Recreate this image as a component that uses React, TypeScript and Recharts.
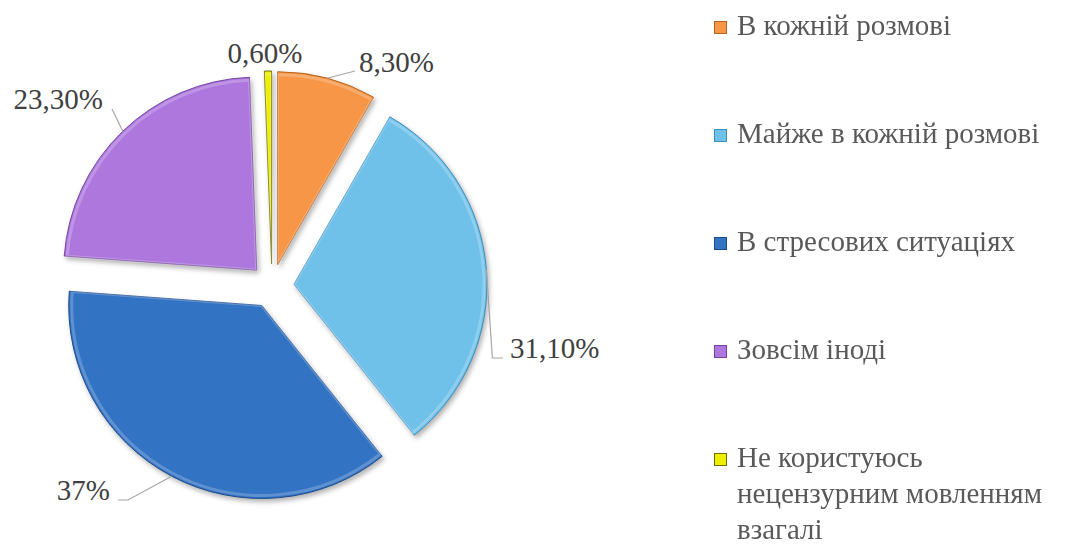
import React from 'react';
import { PieChart, Pie, Cell, Sector, Legend } from 'recharts';

const categories = [
  'В кожній розмові',
  'Майже в кожній розмові',
  'В стресових ситуаціях',
  'Зовсім іноді',
  'Не користуюсь нецензурним мовленням взагалі',
];
const values = [8.3, 31.1, 37, 23.3, 0.6];
const valueLabels = ['8,30%', '31,10%', '37%', '23,30%', '0,60%'];
const colors = ['#F79646', '#6FC1EA', '#3273C4', '#AD77DE', '#EEEE00'];
const edgeColors = ['#B5631F', '#3F8DBA', '#1C4B8C', '#74459F', '#6E6E00'];

const data = categories.map((name, i) => ({ name, value: values[i] }));

const W = 1080;
const H = 544;
const CX = 272;
const CY = 286;
const R = 193;
const EXPLODE = 22;
const RAD = Math.PI / 180;
const FONT = 'Tinos, "Liberation Serif", "Times New Roman", serif';

// label placement relative to pie center: text anchor point, anchor, and leader path bend points
const labelLayout = [
  { tx: 87, ty: -214, anchor: 'start', bends: [[83, -215]] },
  { tx: 238, ty: 72, anchor: 'start', bends: [[220, 72], [231, 72]] },
  { tx: -162, ty: 214, anchor: 'end', bends: [[-144, 214], [-154, 214]] },
  { tx: -169, ty: -177, anchor: 'end', bends: [[-160, -177]] },
  { tx: -7, ty: -223, anchor: 'middle', bends: [] },
];

const explodeOffset = (midAngle: number) => ({
  dx: EXPLODE * Math.cos(-midAngle * RAD),
  dy: EXPLODE * Math.sin(-midAngle * RAD),
});

const ExplodedSector = (props: any) => {
  const { cx, cy, midAngle, index } = props;
  const { dx, dy } = explodeOffset(midAngle);
  return (
    <g>
      <Sector
        {...props}
        cx={cx + dx}
        cy={cy + dy}
        fill={colors[index]}
        stroke={edgeColors[index]}
        strokeWidth={1}
        style={{ filter: 'drop-shadow(2px 3px 2.5px rgba(0,0,0,0.3))' }}
      />
      <Sector
        {...props}
        cx={cx + dx}
        cy={cy + dy}
        outerRadius={props.outerRadius - 3}
        fill="none"
        stroke="rgba(255,255,255,0.22)"
        strokeWidth={3}
      />
    </g>
  );
};

const renderLabel = (props: any) => {
  const { cx, cy, midAngle, outerRadius, index } = props;
  const { dx, dy } = explodeOffset(midAngle);
  const ex = cx + dx;
  const ey = cy + dy;
  const ax = ex + outerRadius * Math.cos(-midAngle * RAD);
  const ay = ey + outerRadius * Math.sin(-midAngle * RAD);
  const lay = labelLayout[index];
  const pts: number[][] = [[ax, ay]];
  if (index === 1) {
    pts.push([ax + 6, cy + lay.bends[0][1]]);
    pts.push([cx + lay.bends[1][0], cy + lay.bends[1][1]]);
  } else {
    lay.bends.forEach((b) => pts.push([cx + b[0], cy + b[1]]));
  }
  return (
    <g key={`lab-${index}`}>
      {pts.length > 1 && (
        <polyline
          points={pts.map((p) => p.join(',')).join(' ')}
          fill="none"
          stroke="#A6A6A6"
          strokeWidth={1.2}
        />
      )}
      <text
        x={cx + lay.tx}
        y={cy + lay.ty}
        textAnchor={lay.anchor}
        fontFamily={FONT}
        fontSize={29}
        fill="#404040"
      >
        {valueLabels[index]}
      </text>
    </g>
  );
};

const renderLegend = () => (
  <div style={{ fontFamily: FONT, fontSize: 29, color: '#595959', lineHeight: '36px' }}>
    {categories.map((c, i) => (
      <div key={c} style={{ display: 'flex', alignItems: 'flex-start', marginBottom: 72 }}>
        <div
          style={{
            width: 13,
            height: 13,
            marginTop: 14,
            marginRight: 10,
            flex: 'none',
            background: colors[i],
            border: `1px solid ${edgeColors[i]}`,
            boxSizing: 'border-box',
          }}
        />
        <div style={{ width: 340 }}>{c}</div>
      </div>
    ))}
  </div>
);

export default function App() {
  return (
    <div style={{ position: 'fixed', left: 0, top: 0, width: W, height: H, background: '#fff' }}>
      <PieChart width={W} height={H} margin={{ top: 0, right: 0, bottom: 0, left: 0 }}>
        <Pie
          data={data}
          dataKey="value"
          nameKey="name"
          cx={CX}
          cy={CY}
          outerRadius={R}
          startAngle={90}
          endAngle={-270}
          stroke="none"
          isAnimationActive={false}
          shape={ExplodedSector}
          label={renderLabel}
          labelLine={false}
        >
          {data.map((d, i) => (
            <Cell key={d.name} fill={colors[i]} />
          ))}
        </Pie>
        <Legend
          layout="vertical"
          align="right"
          verticalAlign="top"
          content={renderLegend}
          wrapperStyle={{ left: 714, top: 7, width: 366, right: 'auto' }}
        />
      </PieChart>
    </div>
  );
}
